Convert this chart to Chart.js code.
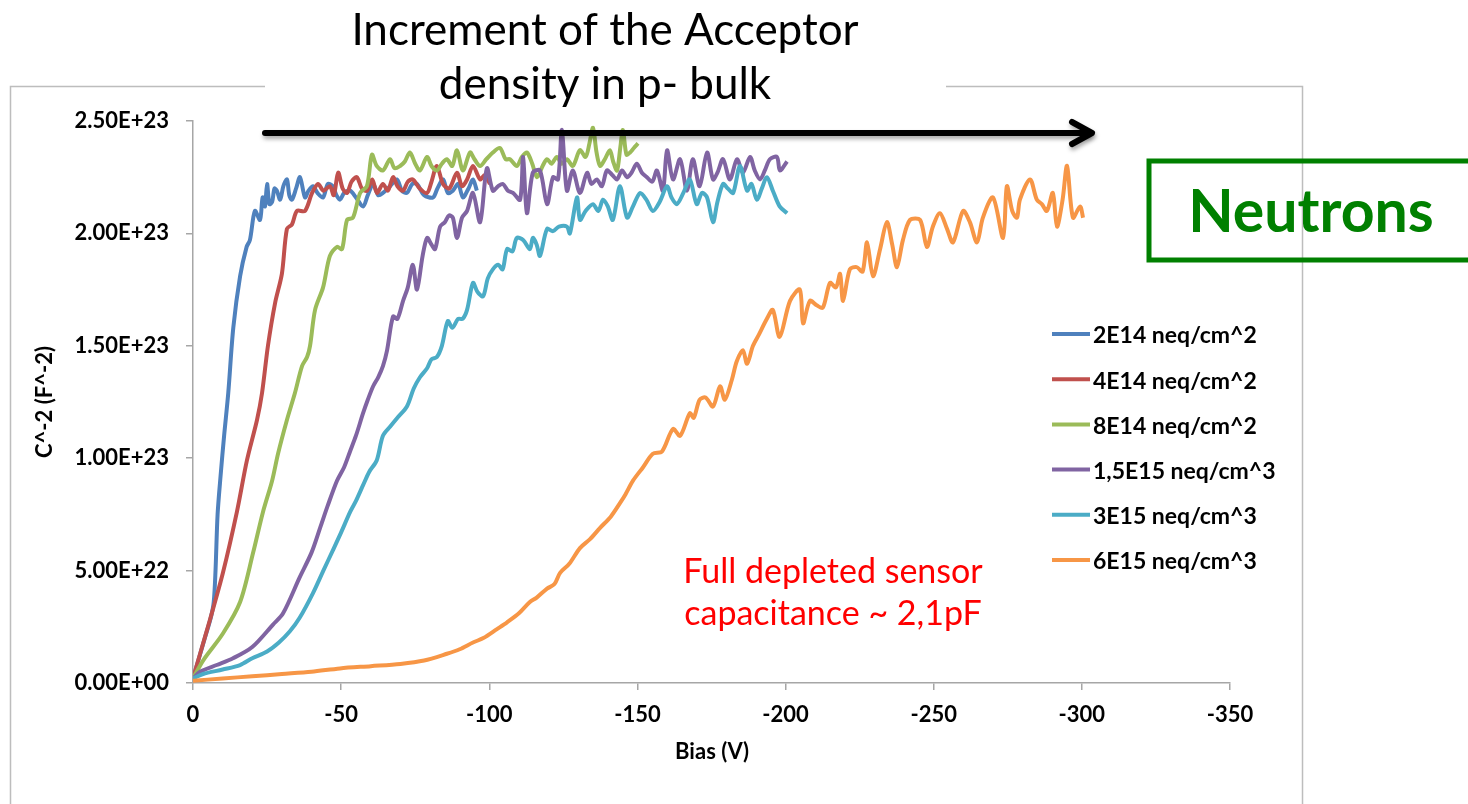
<!DOCTYPE html>
<html>
<head>
<meta charset="utf-8">
<script src="https://cdn.jsdelivr.net/npm/chart.js@4.4.1/dist/chart.umd.min.js"></script>
<style>
  html, body { margin: 0; padding: 0; background: #fff; }
  #wrap { width: 1468px; height: 804px; }
</style>
</head>
<body>
<div id="wrap"><canvas id="chart" width="1468" height="804"></canvas></div>
<script>
// C^-2 values in units of 1E23 F^-2, bias in V
const seriesNames = [
    '2E14 neq/cm^2',
    '4E14 neq/cm^2',
    '8E14 neq/cm^2',
    '1,5E15 neq/cm^3',
    '3E15 neq/cm^3',
    '6E15 neq/cm^3'
];
const seriesColors = ['#4f81bd', '#c0504d', '#9bbb59', '#8064a2', '#4bacc6', '#f79646'];

const xTicks = [0, -50, -100, -150, -200, -250, -300, -350];
const yTicks = [0, 0.5, 1.0, 1.5, 2.0, 2.5];

const fluence2E14 = [
    [0,0.02],[-2,0.11],[-4,0.2],[-6,0.29],[-7,0.36],[-7.6,0.5],[-8.3,0.75],[-9.3,0.92],[-10.5,1.1],
    [-11.9,1.29],[-13.6,1.58],[-15.9,1.81],[-18.1,1.94],[-19.2,1.97],[-20.9,2.10],[-22.6,2.06],
    [-23.5,2.16],[-24.3,2.12],[-25,2.22],[-25.8,2.13],[-26.7,2.14],[-27.5,2.20],[-28.3,2.19],
    [-29.4,2.15],[-30.5,2.21],[-31.7,2.24],[-32.5,2.17],[-33.4,2.15],[-34.8,2.20],[-36.1,2.25],
    [-37.8,2.16],[-39,2.19],[-40.5,2.21],[-42,2.18],[-43.9,2.16],[-45.5,2.22],[-47.2,2.21],
    [-48.4,2.17],[-49.6,2.15],[-51,2.18],[-53,2.19],[-55,2.16],[-57.4,2.12],[-59,2.17],
    [-60.8,2.22],[-62.5,2.17],[-64.1,2.18],[-66.5,2.21],[-68.8,2.24],[-70.5,2.19],[-72.2,2.18],
    [-74,2.22],[-75.6,2.22],[-78,2.17],[-81,2.16],[-82.5,2.20],[-84.4,2.24],[-86,2.18],
    [-87.7,2.19],[-89.5,2.22],[-91.1,2.16],[-93,2.20],[-94.5,2.24],[-95.8,2.19]
];
const fluence4E14 = [
    [0,0.02],[-2.4,0.13],[-5.7,0.28],[-10.1,0.49],[-14.8,0.76],[-18.2,0.99],[-21.6,1.17],
    [-23.3,1.29],[-25.3,1.50],[-27.7,1.69],[-30,1.82],[-31.7,2.02],[-33.4,2.04],[-35.1,2.10],
    [-37.8,2.10],[-40.2,2.18],[-42.2,2.22],[-44,2.19],[-46.2,2.21],[-47.5,2.17],[-49,2.27],
    [-50.5,2.20],[-52,2.18],[-53.5,2.23],[-55.3,2.25],[-57,2.20],[-58.7,2.19],[-60.5,2.24],
    [-62.1,2.18],[-64.1,2.22],[-65.8,2.19],[-67.5,2.25],[-69,2.21],[-70.9,2.19],[-72.5,2.23],
    [-74.2,2.24],[-76.5,2.20],[-79,2.18],[-80.5,2.23],[-82.3,2.30],[-84.4,2.22],[-86.5,2.20],
    [-89.1,2.27],[-90.8,2.21],[-92.5,2.24],[-94.5,2.30],[-96.9,2.24],[-98.5,2.26],[-100.2,2.22]
];
const fluence8E14 = [
    [0,0.02],[-3.4,0.10],[-10.1,0.22],[-15.9,0.36],[-20.3,0.58],[-23.6,0.76],[-26.7,0.90],
    [-28.7,1.02],[-31.7,1.17],[-34.4,1.29],[-36.8,1.41],[-38.5,1.45],[-39.5,1.50],[-41.2,1.66],
    [-43.9,1.76],[-46.2,1.90],[-48.6,1.94],[-50.3,1.93],[-52,2.06],[-54,2.07],[-56.4,2.18],
    [-58.7,2.21],[-60.4,2.35],[-62,2.30],[-64.1,2.28],[-66.5,2.33],[-68,2.29],[-69.9,2.30],
    [-71.5,2.32],[-73.2,2.36],[-75,2.31],[-76.6,2.28],[-79,2.34],[-80.5,2.30],[-82.3,2.28],
    [-84,2.31],[-85.7,2.33],[-87.5,2.30],[-89.1,2.37],[-91.1,2.28],[-93.5,2.36],[-95,2.33],
    [-96.9,2.30],[-99,2.33],[-101.2,2.36],[-103.6,2.38],[-105.5,2.33],[-107,2.33],[-109.3,2.30],
    [-111,2.34],[-112.7,2.36],[-114.5,2.31],[-116.1,2.25],[-118,2.30],[-119.5,2.33],[-121,2.31],
    [-122.8,2.34],[-124.5,2.31],[-126.2,2.33],[-128.2,2.30],[-130.6,2.37],[-132.5,2.34],
    [-133.8,2.40],[-135,2.47],[-136.2,2.36],[-137.4,2.30],[-139,2.33],[-140.7,2.37],
    [-141.8,2.32],[-143.1,2.28],[-144.2,2.38],[-145.1,2.46],[-146.3,2.35],[-147.5,2.36],
    [-148.8,2.38],[-150.2,2.40]
];
const fluence1p5E15 = [
    [0,0.02],[-2.4,0.05],[-8,0.08],[-13.5,0.11],[-20,0.16],[-27,0.26],[-30.4,0.31],[-36,0.47],
    [-40,0.58],[-42.9,0.69],[-45.5,0.79],[-48.6,0.90],[-51,0.96],[-53,1.03],[-55,1.10],
    [-57.4,1.20],[-59,1.26],[-60.8,1.32],[-62.5,1.36],[-64.1,1.41],[-65.5,1.48],[-67.5,1.63],
    [-69,1.62],[-70.9,1.70],[-72.5,1.76],[-74.2,1.86],[-75.6,1.75],[-77.5,1.90],[-79,1.98],
    [-80.5,1.95],[-81.7,1.93],[-83.4,2.03],[-85,2.05],[-86.4,2.08],[-87.7,2.07],[-89.1,1.98],
    [-90.8,2.07],[-92.5,2.10],[-94.5,2.18],[-96.9,2.05],[-99.2,2.29],[-101.2,2.19],[-103,2.21],
    [-104.6,2.22],[-106.3,2.19],[-108,2.18],[-110.4,2.15],[-111.4,2.34],[-112.7,2.09],
    [-114.7,2.27],[-117.1,2.28],[-119.5,2.13],[-121.5,2.25],[-123.2,2.24],[-124.5,2.46],
    [-126.2,2.19],[-128.2,2.28],[-130.6,2.18],[-133,2.27],[-134.5,2.22],[-136.3,2.24],
    [-138,2.21],[-139.7,2.28],[-141.5,2.26],[-143.1,2.24],[-144.8,2.28],[-146.5,2.25],
    [-148,2.27],[-149.8,2.31],[-151.5,2.27],[-153.2,2.25],[-155,2.23],[-156.6,2.28],
    [-158.6,2.19],[-160,2.37],[-162,2.24],[-164.4,2.33],[-166.7,2.19],[-168.7,2.33],[-171,2.21],
    [-173.5,2.36],[-175.5,2.24],[-177,2.27],[-178.9,2.33],[-181.2,2.24],[-183.6,2.33],
    [-185.6,2.27],[-188,2.34],[-189.6,2.28],[-191.4,2.24],[-193,2.28],[-194.7,2.33],
    [-197.1,2.34],[-198.1,2.28],[-200.5,2.32]
];
const fluence3E15 = [
    [0,0.02],[-3.4,0.04],[-10,0.06],[-15.9,0.08],[-20,0.11],[-25,0.14],[-29,0.18],[-32.7,0.23],
    [-36,0.29],[-40.5,0.40],[-44,0.50],[-47.2,0.59],[-50,0.67],[-53,0.76],[-55,0.81],
    [-57.4,0.88],[-59.5,0.94],[-62,0.99],[-64.1,1.10],[-66.5,1.14],[-69,1.18],[-72.2,1.23],
    [-74.5,1.31],[-76.6,1.36],[-79,1.40],[-80.5,1.44],[-82.3,1.45],[-84,1.50],[-86,1.61],
    [-87.5,1.58],[-89.5,1.62],[-91,1.62],[-92.5,1.66],[-94.5,1.78],[-96,1.74],[-97.9,1.72],
    [-99.5,1.80],[-101.2,1.84],[-103,1.86],[-104.5,1.84],[-106,1.93],[-107.8,1.92],[-109.3,1.98],
    [-111.5,1.97],[-113.7,1.93],[-114.7,1.98],[-116,1.95],[-117.1,1.90],[-119.5,2.02],
    [-121.5,2.01],[-123.5,2.03],[-126.2,2.03],[-127.2,2.00],[-129.6,2.16],[-130.6,2.06],
    [-132.5,2.10],[-135,2.13],[-136.8,2.10],[-138.4,2.15],[-140,2.12],[-141.7,2.06],
    [-144.1,2.21],[-146.5,2.07],[-148.5,2.12],[-150.9,2.18],[-153,2.15],[-155.2,2.10],
    [-157.5,2.14],[-160,2.21],[-161.5,2.16],[-163.3,2.13],[-165.5,2.18],[-167.7,2.24],
    [-170,2.13],[-171.8,2.18],[-173.5,2.16],[-175.5,2.05],[-177,2.14],[-178.9,2.22],
    [-180.5,2.20],[-182.3,2.18],[-184.6,2.30],[-187,2.19],[-188.5,2.22],[-190.3,2.15],
    [-192,2.20],[-193.7,2.25],[-195.7,2.19],[-198,2.12],[-200.5,2.09]
];
const fluence6E15 = [
    [0,0.01],[-10,0.02],[-20,0.03],[-30,0.04],[-40,0.05],[-49.6,0.065],[-60,0.075],[-70,0.085],
    [-78,0.10],[-85.7,0.13],[-90,0.15],[-94.5,0.18],[-98,0.20],[-102.6,0.24],[-106,0.27],
    [-110,0.31],[-113.7,0.36],[-116,0.38],[-119.5,0.42],[-122,0.44],[-123.9,0.49],[-127,0.53],
    [-130.6,0.60],[-134,0.64],[-137.4,0.69],[-141,0.74],[-144.1,0.80],[-146,0.84],[-148.5,0.90],
    [-151.9,0.96],[-155.2,1.02],[-158.3,1.03],[-162,1.13],[-164.4,1.10],[-167.7,1.20],
    [-169,1.18],[-171,1.26],[-173,1.27],[-175.5,1.23],[-177.9,1.32],[-179.5,1.26],[-181.9,1.35],
    [-183.5,1.43],[-185.6,1.48],[-187,1.42],[-189,1.50],[-191,1.55],[-193.7,1.62],[-195.7,1.66],
    [-198,1.54],[-201.5,1.70],[-204.8,1.75],[-205.9,1.60],[-208.2,1.70],[-210.5,1.68],
    [-212.6,1.67],[-215,1.78],[-217,1.76],[-218.4,1.82],[-219.4,1.70],[-221.7,1.84],[-224,1.85],
    [-226,1.83],[-227.5,1.96],[-229.5,1.81],[-231.9,1.93],[-234.2,2.05],[-236,1.95],
    [-237.6,1.85],[-239.6,1.97],[-242,2.06],[-245.4,2.06],[-247.7,1.94],[-249.7,2.03],
    [-252.1,2.09],[-254.5,2.02],[-256.5,1.96],[-259.9,2.10],[-262.2,2.05],[-264.6,1.96],
    [-266.6,2.07],[-270,2.16],[-273.4,1.98],[-274.7,2.21],[-276.5,2.10],[-278.1,2.07],
    [-279.1,2.15],[-282.5,2.24],[-284.8,2.15],[-286.5,2.13],[-288.2,2.10],[-290.2,2.18],
    [-291.6,2.03],[-293.5,2.15],[-295,2.30],[-297,2.07],[-299.4,2.12],[-300.4,2.07]
];

const seriesData = [fluence2E14, fluence4E14, fluence8E14, fluence1p5E15, fluence3E15, fluence6E15];

function sci(v) {
    if (v === 0) return '0.00E+00';
    return (v * 1e23).toExponential(2).replace('e+', 'E+');
}

const overlay = {
    id: 'overlay',
    beforeDraw(chart) {
        const ctx = chart.ctx;
        ctx.save();
        ctx.fillStyle = '#fff';
        ctx.fillRect(0, 0, chart.width, chart.height);
        // outer chart frame
        ctx.strokeStyle = '#bdbdbd';
        ctx.lineWidth = 1.5;
        ctx.strokeRect(10.5, 86.5, 1292, 740);
        ctx.restore();
    },
    afterDraw(chart) {
        const ctx = chart.ctx;
        ctx.save();

        // title block over the frame
        ctx.fillStyle = '#fff';
        ctx.fillRect(265, 0, 681, 104);
        ctx.fillStyle = '#000';
        ctx.textAlign = 'center';
        ctx.textBaseline = 'middle';
        ctx.font = '44px Lato';
        ctx.fillText('Increment of the Acceptor', 605, 31);
        ctx.fillText('density in p- bulk', 605, 85);

        // arrow
        ctx.save();
        ctx.shadowColor = 'rgba(0,0,0,0.35)';
        ctx.shadowBlur = 4;
        ctx.shadowOffsetX = 1;
        ctx.shadowOffsetY = 3;
        ctx.strokeStyle = '#000';
        ctx.lineWidth = 6;
        ctx.lineCap = 'round';
        ctx.lineJoin = 'round';
        ctx.beginPath();
        ctx.moveTo(265, 133);
        ctx.lineTo(1088, 133);
        ctx.stroke();
        ctx.beginPath();
        ctx.moveTo(1072, 122);
        ctx.lineTo(1092, 133);
        ctx.lineTo(1072, 144);
        ctx.stroke();
        ctx.restore();

        // Neutrons box
        ctx.strokeStyle = '#008000';
        ctx.lineWidth = 5;
        ctx.strokeRect(1149, 161, 340, 99);
        ctx.fillStyle = '#008000';
        ctx.font = 'bold 59px Lato';
        ctx.textAlign = 'center';
        ctx.fillText('Neutrons', 1311, 213);

        // red annotation
        ctx.fillStyle = '#ff0000';
        ctx.font = '34px Lato';
        ctx.fillText('Full depleted sensor', 833, 572);
        ctx.fillText('capacitance ~ 2,1pF', 833, 614);

        // axis titles
        ctx.fillStyle = '#000';
        ctx.font = 'bold 22px Lato';
        ctx.fillText('Bias (V)', 712, 752);
        ctx.save();
        ctx.translate(45, 402);
        ctx.rotate(-Math.PI / 2);
        ctx.fillText('C^-2 (F^-2)', 0, 0);
        ctx.restore();

        // legend
        ctx.textAlign = 'left';
        ctx.font = 'bold 23px Lato';
        chart.data.datasets.forEach((ds, i) => {
            const y = 334 + i * 45.2;
            ctx.strokeStyle = ds.borderColor;
            ctx.lineWidth = 4;
            ctx.beginPath();
            ctx.moveTo(1052, y);
            ctx.lineTo(1090, y);
            ctx.stroke();
            ctx.fillStyle = '#000';
            ctx.fillText(ds.label, 1093, y + 2);
        });
        ctx.restore();
    }
};

new Chart(document.getElementById('chart'), {
    type: 'line',
    data: {
        datasets: seriesData.map((pts, i) => ({
            label: seriesNames[i],
            data: pts.map(p => ({ x: p[0], y: p[1] })),
            borderColor: seriesColors[i],
            backgroundColor: seriesColors[i],
            borderWidth: 4,
            pointRadius: 0,
            tension: 0.3,
            order: seriesData.length - i
        }))
    },
    options: {
        responsive: false,
        animation: false,
        devicePixelRatio: 1,
        layout: { padding: { left: 0, top: 121, right: 238, bottom: 0 } },
        plugins: {
            legend: { display: false },
            tooltip: { enabled: false }
        },
        scales: {
            x: {
                type: 'linear',
                reverse: true,
                min: -350,
                max: 0,
                afterFit: (scale) => { scale.height = 121; },
                afterBuildTicks: (scale) => { scale.ticks = xTicks.map(v => ({ value: v })); },
                grid: { drawOnChartArea: false, tickLength: 7, color: '#a6a6a6', lineWidth: 1.5 },
                border: { color: '#a6a6a6', width: 1.5 },
                ticks: {
                    color: '#000',
                    padding: 12,
                    font: { family: 'Lato', size: 22, weight: 'bold' },
                    maxRotation: 0
                }
            },
            y: {
                min: 0,
                max: 2.5,
                afterFit: (scale) => { scale.width = 193; },
                afterBuildTicks: (scale) => { scale.ticks = yTicks.map(v => ({ value: v })); },
                grid: { drawOnChartArea: false, tickLength: 7, color: '#a6a6a6', lineWidth: 1.5 },
                border: { color: '#a6a6a6', width: 1.5 },
                ticks: {
                    color: '#000',
                    padding: 17,
                    font: { family: 'Lato', size: 22, weight: 'bold' },
                    callback: (v) => sci(v)
                }
            }
        }
    },
    plugins: [overlay]
});
</script>
</body>
</html>
